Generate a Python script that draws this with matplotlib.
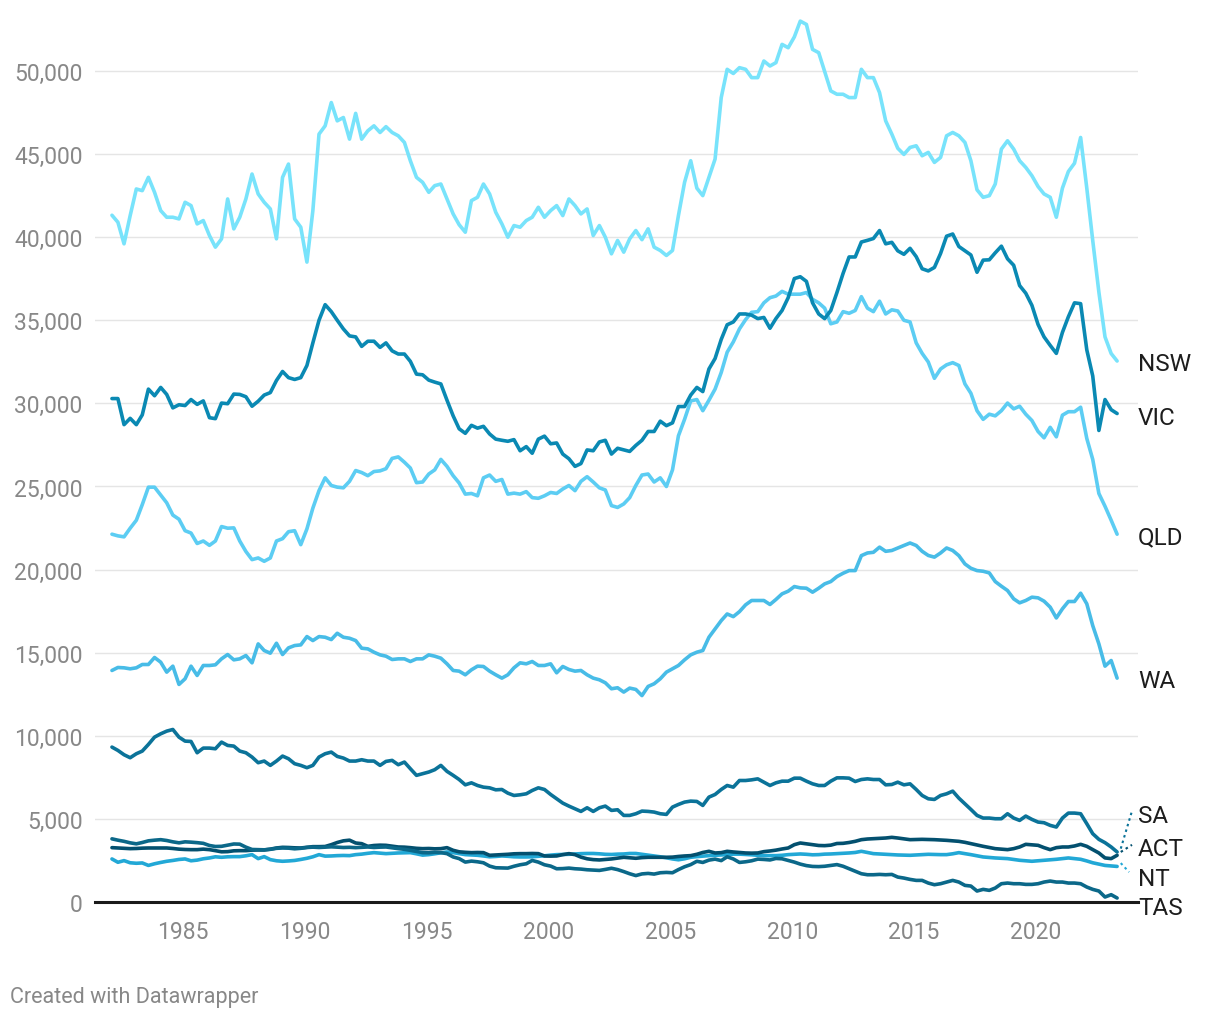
import numpy as np
import pandas as pd
import matplotlib
matplotlib.use('Agg')
import matplotlib.pyplot as plt
import matplotlib.transforms as mtransforms

plt.rcParams['font.family'] = ['Roboto', 'DejaVu Sans']

# quarterly observations, Feb 1982 .. May 2023
quarters = pd.date_range('1982-02-01', periods=166, freq='3MS')

nsw = [41320, 40900, 39600, 41300, 42900, 42800, 43600, 42700, 41600, 41200,
       41200, 41100, 42100, 41900, 40800, 41000, 40100, 39400, 39900, 42300,
       40500, 41200, 42300, 43800, 42600, 42100, 41700, 39900, 43600, 44400,
       41100, 40600, 38500, 41600, 46200, 46700, 48100, 47000, 47200, 45900,
       47450, 45900, 46400, 46700, 46300, 46650, 46300, 46100, 45700, 44600,
       43600, 43300, 42700, 43100, 43200, 42300, 41400, 40750, 40300, 42200,
       42400, 43200, 42600, 41500, 40800, 40000, 40700, 40600, 41000, 41200,
       41800, 41200, 41600, 41900, 41300, 42300, 41900, 41400, 41700, 40100,
       40700, 40000, 39000, 39800, 39100, 39900, 40400, 39850, 40500, 39400,
       39200, 38900, 39200, 41300, 43300, 44600, 42950, 42500, 43600, 44700,
       48400, 50100, 49850, 50200, 50100, 49600, 49600, 50600, 50300, 50500,
       51600, 51400, 52050, 53000, 52800, 51300, 51100, 49960, 48800, 48600,
       48600, 48400, 48400, 50100, 49600, 49600, 48700, 47000, 46200, 45350,
       44980, 45400, 45500, 44900, 45100, 44500, 44800, 46100, 46300, 46100,
       45700, 44600, 42850, 42400, 42500, 43200, 45300, 45800, 45300, 44600,
       44200, 43700, 43050, 42600, 42400, 41200, 42950, 43950, 44450, 46000,
       42950, 39800, 36700, 34000, 33000, 32550]

vic = [30290, 30290, 28720, 29100, 28720, 29310, 30860, 30460, 30960, 30540,
       29730, 29920, 29870, 30230, 29940, 30150, 29140, 29080, 30020, 29980,
       30560, 30540, 30400, 29830, 30130, 30500, 30650, 31380, 31920, 31550,
       31440, 31550, 32280, 33640, 35000, 35940, 35520, 35000, 34480, 34060,
       34000, 33430, 33740, 33740, 33370, 33640, 33160, 32970, 32970, 32530,
       31760, 31720, 31400, 31280, 31170, 30190, 29250, 28470, 28200, 28680,
       28510, 28620, 28160, 27850, 27780, 27720, 27820, 27150, 27400, 27000,
       27850, 28030, 27570, 27620, 26950, 26670, 26210, 26380, 27200, 27150,
       27680, 27780, 26950, 27300, 27200, 27110, 27470, 27780, 28310, 28310,
       28930, 28660, 28830, 29810, 29810, 30500, 30960, 30710, 32070, 32700,
       33850, 34730, 34900, 35380, 35380, 35310, 35100, 35170, 34520, 35100,
       35590, 36360, 37510, 37620, 37340, 36050, 35380, 35100, 35590, 36670,
       37820, 38810, 38810, 39710, 39810, 39920, 40400, 39600, 39690, 39180,
       38970, 39330, 38830, 38100, 37970, 38180, 39020, 40060, 40190, 39440,
       39180, 38930, 37890, 38620, 38640, 39060, 39460, 38700, 38310, 37090,
       36630, 35900, 34750, 34000, 33490, 33010, 34270, 35210, 36050, 36000,
       33220, 31650, 28370, 30230, 29620, 29390]

qld = [22130, 22030, 21970, 22490, 22970, 23910, 24960, 24960, 24480, 24020,
       23280, 23030, 22340, 22200, 21570, 21720, 21460, 21720, 22590, 22490,
       22510, 21720, 21090, 20600, 20700, 20500, 20700, 21720, 21860, 22280,
       22340, 21500, 22450, 23700, 24750, 25520, 25060, 24960, 24920, 25310,
       25960, 25840, 25650, 25900, 25940, 26070, 26690, 26780, 26460, 26110,
       25230, 25270, 25750, 26000, 26630, 26210, 25650, 25210, 24540, 24580,
       24440, 25520, 25690, 25310, 25420, 24540, 24600, 24540, 24690, 24330,
       24290, 24440, 24640, 24580, 24850, 25060, 24750, 25310, 25590, 25270,
       24920, 24790, 23850, 23740, 23950, 24330, 25060, 25690, 25750, 25270,
       25520, 25000, 26000, 28050, 29040, 30150, 30230, 29560, 30190, 30860,
       31860, 33080, 33700, 34480, 35040, 35480, 35520, 36050, 36360, 36460,
       36740, 36570, 36570, 36570, 36670, 36260, 36050, 35730, 34790, 34900,
       35520, 35420, 35590, 36420, 35730, 35520, 36150, 35380, 35630, 35560,
       35000, 34900, 33640, 33010, 32490, 31510, 32070, 32320, 32450, 32280,
       31170, 30610, 29560, 29040, 29350, 29250, 29560, 30020, 29670, 29830,
       29350, 28970, 28310, 27930, 28560, 27990, 29290, 29500, 29500, 29770,
       27890, 26630, 24580, 23810, 22970, 22130]

wa = [13930, 14110, 14090, 14030, 14090, 14290, 14290, 14710, 14430, 13830,
      14190, 13090, 13430, 14190, 13630, 14230, 14230, 14270, 14630, 14890,
      14570, 14630, 14830, 14390, 15530, 15130, 14970, 15570, 14890, 15290,
      15430, 15470, 15970, 15730, 15970, 15930, 15790, 16170, 15930, 15870,
      15730, 15270, 15230, 15030, 14870, 14790, 14590, 14630, 14630, 14470,
      14630, 14630, 14870, 14790, 14670, 14330, 13930, 13890, 13670, 13970,
      14190, 14170, 13890, 13670, 13470, 13670, 14090, 14390, 14330, 14470,
      14230, 14230, 14330, 13790, 14170, 13990, 13890, 13930, 13670, 13470,
      13370, 13190, 12830, 12890, 12630, 12870, 12790, 12420, 12970, 13130,
      13430, 13830, 14030, 14230, 14570, 14870, 15030, 15130, 15930, 16430,
      16930, 17330, 17170, 17470, 17880, 18140, 18140, 18140, 17900, 18200,
      18540, 18700, 18980, 18900, 18880, 18640, 18880, 19140, 19280, 19580,
      19780, 19940, 19940, 20840, 21000, 21040, 21350, 21100, 21150, 21300,
      21450, 21600, 21450, 21100, 20850, 20750, 21000, 21300, 21150, 20840,
      20340, 20080, 19940, 19900, 19800, 19280, 19000, 18740, 18240, 18000,
      18140, 18340, 18300, 18100, 17740, 17090, 17640, 18080, 18080, 18580,
      17940, 16630, 15530, 14190, 14530, 13470]

sa = [9320, 9120, 8860, 8680, 8920, 9080, 9480, 9920, 10120, 10280,
      10380, 9920, 9680, 9660, 8980, 9260, 9260, 9220, 9620, 9420,
      9380, 9080, 8980, 8720, 8380, 8480, 8220, 8480, 8780, 8620,
      8320, 8220, 8080, 8220, 8720, 8920, 9020, 8760, 8660, 8480,
      8480, 8560, 8480, 8480, 8220, 8460, 8520, 8260, 8420, 8020,
      7620, 7720, 7820, 7960, 8220, 7860, 7620, 7370, 7050, 7170,
      7010, 6910, 6870, 6750, 6770, 6550, 6410, 6450, 6510, 6710,
      6870, 6770, 6470, 6210, 5950, 5770, 5610, 5450, 5670, 5450,
      5670, 5770, 5510, 5550, 5210, 5210, 5310, 5470, 5450, 5410,
      5310, 5270, 5710, 5870, 6010, 6070, 6050, 5810, 6310, 6470,
      6770, 7010, 6910, 7310, 7310, 7350, 7410, 7210, 7010, 7170,
      7270, 7270, 7450, 7450, 7270, 7110, 7010, 7010, 7270, 7470,
      7470, 7450, 7250, 7370, 7410, 7370, 7370, 7050, 7070, 7210,
      7050, 7110, 6770, 6410, 6210, 6170, 6410, 6510, 6670, 6250,
      5910, 5570, 5210, 5050, 5050, 5010, 5010, 5310, 5050, 4910,
      5170, 4970, 4810, 4770, 4610, 4510, 5050, 5350, 5350, 5310,
      4710, 4110, 3770, 3570, 3310, 3010]

act = [3270, 3250, 3230, 3210, 3220, 3240, 3250, 3250, 3250, 3250,
       3220, 3180, 3160, 3150, 3150, 3180, 3150, 3090, 3020, 3030,
       3080, 3090, 3090, 3120, 3130, 3130, 3180, 3250, 3290, 3280,
       3260, 3250, 3290, 3330, 3330, 3340, 3450, 3580, 3680, 3720,
       3550, 3510, 3350, 3400, 3420, 3410, 3360, 3310, 3300, 3270,
       3230, 3210, 3220, 3200, 3210, 3270, 3110, 3020, 2990, 2970,
       2980, 2970, 2810, 2830, 2850, 2870, 2900, 2910, 2910, 2920,
       2910, 2770, 2760, 2770, 2850, 2910, 2850, 2700, 2600, 2550,
       2530, 2560, 2590, 2640, 2690, 2660, 2630, 2670, 2690, 2690,
       2690, 2690, 2700, 2740, 2770, 2790, 2870, 2980, 3050, 2950,
       2970, 3050, 3010, 2980, 2950, 2940, 2950, 3030, 3070, 3120,
       3190, 3250, 3450, 3550, 3500, 3450, 3400, 3390, 3420, 3520,
       3530, 3580, 3650, 3750, 3790, 3810, 3830, 3850, 3890, 3850,
       3800, 3750, 3760, 3770, 3760, 3750, 3730, 3710, 3680, 3650,
       3590, 3510, 3430, 3350, 3280, 3210, 3180, 3150, 3210, 3310,
       3470, 3440, 3410, 3270, 3150, 3270, 3310, 3310, 3370, 3470,
       3350, 3150, 2950, 2650, 2610, 2810]

nt = [2590, 2390, 2490, 2360, 2330, 2350, 2200, 2300, 2380, 2450,
      2500, 2560, 2590, 2480, 2520, 2600, 2650, 2720, 2690, 2720,
      2730, 2730, 2780, 2850, 2610, 2730, 2550, 2480, 2450, 2470,
      2500, 2560, 2630, 2720, 2850, 2760, 2770, 2790, 2800, 2790,
      2850, 2880, 2930, 2970, 2940, 2910, 2930, 2950, 2960, 2970,
      2900, 2820, 2850, 2900, 2960, 3010, 2970, 2910, 2850, 2830,
      2810, 2770, 2720, 2740, 2770, 2750, 2720, 2710, 2710, 2720,
      2750, 2780, 2820, 2850, 2860, 2870, 2890, 2910, 2920, 2920,
      2900, 2870, 2860, 2880, 2890, 2920, 2920, 2870, 2820, 2770,
      2720, 2660, 2590, 2540, 2600, 2690, 2730, 2760, 2790, 2810,
      2830, 2850, 2880, 2880, 2860, 2840, 2810, 2790, 2790, 2790,
      2810, 2850, 2870, 2890, 2870, 2840, 2850, 2880, 2890, 2910,
      2930, 2950, 2980, 3050, 2980, 2910, 2890, 2870, 2850, 2830,
      2820, 2810, 2830, 2850, 2870, 2860, 2850, 2850, 2900, 2970,
      2910, 2850, 2780, 2710, 2680, 2650, 2630, 2610, 2560, 2510,
      2480, 2450, 2480, 2510, 2540, 2570, 2610, 2650, 2610, 2570,
      2470, 2360, 2280, 2200, 2170, 2140]

tas = [3800, 3720, 3650, 3560, 3500, 3580, 3680, 3720, 3750, 3700,
       3620, 3560, 3620, 3600, 3570, 3530, 3400, 3340, 3350, 3420,
       3490, 3480, 3300, 3160, 3150, 3140, 3170, 3230, 3250, 3240,
       3200, 3230, 3280, 3300, 3280, 3300, 3320, 3300, 3280, 3290,
       3270, 3290, 3310, 3280, 3300, 3310, 3260, 3210, 3170, 3110,
       3040, 2970, 2960, 2990, 2970, 2910, 2710, 2610, 2400, 2460,
       2420, 2360, 2160, 2060, 2050, 2040, 2150, 2240, 2300, 2500,
       2400, 2240, 2160, 2000, 2010, 2040, 2000, 1980, 1940, 1920,
       1900, 1960, 2030, 1950, 1830, 1700, 1590, 1690, 1720, 1680,
       1760, 1780, 1760, 1950, 2120, 2250, 2450, 2380, 2520, 2580,
       2490, 2720, 2590, 2380, 2420, 2480, 2580, 2560, 2530, 2620,
       2600, 2500, 2400, 2280, 2190, 2140, 2130, 2150, 2200, 2250,
       2150, 2000, 1850, 1700, 1640, 1640, 1660, 1640, 1660, 1500,
       1440, 1360, 1300, 1300, 1140, 1040, 1100, 1200, 1300, 1200,
       1000, 960, 660, 760, 700, 840, 1100, 1140, 1100, 1100,
       1060, 1060, 1100, 1200, 1260, 1200, 1200, 1140, 1140, 1100,
       900, 760, 660, 300, 440, 240]

states = ['NSW', 'VIC', 'QLD', 'WA', 'SA', 'ACT', 'NT', 'TAS']
series = [nsw, vic, qld, wa, sa, act, nt, tas]

colors = {'NSW': '#78e3fb', 'VIC': '#0a89b3', 'QLD': '#5ccdf3', 'WA': '#48bce7',
          'SA': '#0b7399', 'ACT': '#03506f', 'NT': '#22a8d6', 'TAS': '#0b6889'}
zorders = {'NSW': 3, 'QLD': 3, 'VIC': 4, 'WA': 3, 'SA': 3, 'NT': 3, 'ACT': 4, 'TAS': 5}

# label placement (data units) and dotted leaders
label_y = {'NSW': 32370, 'VIC': 29180, 'QLD': 21960, 'WA': 13300,
           'SA': 5200, 'ACT': 3190, 'NT': 1400, 'TAS': -330}
leader_to = {'SA': (2023.94, 5480), 'ACT': (2023.94, 3440), 'NT': (2023.82, 1800)}

xs = quarters.year + (quarters.dayofyear - 1) / 365.25

fig = plt.figure(figsize=(12.2, 10.2), dpi=100)
ax = fig.add_axes([95 / 1220, 1 - 903 / 1020, (1138 - 95) / 1220, 897.5 / 1020])

for s, v in zip(states, series):
    ax.plot(xs, v, color=colors[s], lw=2.6, zorder=zorders[s],
            solid_joinstyle='round', solid_capstyle='round')

ax.set_xlim(1981.389, 2024.186)
ax.set_ylim(0, 54000)

for side in ['left', 'right', 'top']:
    ax.spines[side].set_visible(False)
ax.spines['bottom'].set_color('#1a1a1a')
ax.spines['bottom'].set_linewidth(2.2)
ax.spines['bottom'].set_zorder(6)

yt = np.arange(0, 50001, 5000)
ax.set_yticks(yt)
ax.set_yticklabels([f'{t:,}' for t in yt])
ax.set_xticks(np.arange(1985, 2021, 5))
ax.tick_params(axis='y', length=0, pad=9, labelsize=16.5, labelcolor='#888888')
ax.tick_params(axis='x', length=0, pad=13, labelsize=16.5, labelcolor='#888888')
ax.yaxis.grid(True, color='#e5e5e5', lw=1.0)
ax.set_axisbelow(True)

trans = mtransforms.blended_transform_factory(ax.transAxes, ax.transData)
for s, v in zip(states, series):
    ax.annotate(s, xy=(1, label_y[s]), xycoords=trans, xytext=(0, 0),
                textcoords='offset pixels', va='center', ha='left',
                fontsize=17.5, color='#1d1d1d', annotation_clip=False)
    if s in leader_to:
        x1, y1 = leader_to[s]
        ax.plot([xs[-1] + 0.15, x1], [v[-1] + 200, y1], color=colors[s],
                lw=1.5, ls=(0, (1.2, 1.6)), clip_on=False, zorder=5)

fig.text(10 / 1220, 1 - 998 / 1020, 'Created with Datawrapper',
         color='#888888', fontsize=15.5, va='center', ha='left')

fig.savefig('out.png', dpi=100, facecolor='white')
